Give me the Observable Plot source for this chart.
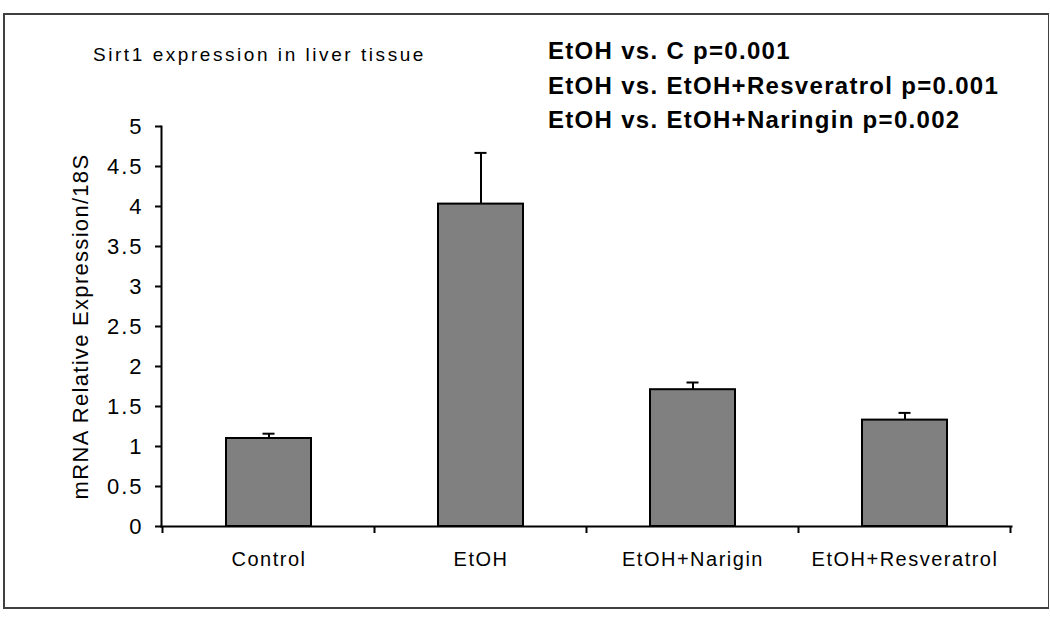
<!DOCTYPE html>
<html>
<head>
<meta charset="utf-8">
<script src="https://cdn.jsdelivr.net/npm/d3@7"></script>
<script src="https://cdn.jsdelivr.net/npm/@observablehq/plot@0.6"></script>
<style>
  html, body { margin: 0; padding: 0; background: #fff; }
  #wrap { position: relative; width: 1050px; height: 620px; overflow: hidden; font-family: "Liberation Sans", Arial, sans-serif; }
  #chart { position: absolute; left: 0; top: 0; }
  #border { position: absolute; left: 3px; top: 13px; width: 1046px; height: 596px; box-sizing: border-box; border: 2px solid #404040; border-right-width: 1px; pointer-events: none; }
  #title { position: absolute; left: 93px; top: 45px; font-size: 19px; line-height: 19px; letter-spacing: 2.55px; color: #000; white-space: nowrap; }
  #pvals { position: absolute; left: 548px; top: 34px; font-size: 24px; font-weight: bold; line-height: 34.5px; letter-spacing: 1.3px; color: #000; white-space: nowrap; }
  #chart g[aria-label="y-axis tick label"] { letter-spacing: 2px; }
  #chart g[aria-label="x-axis tick label"] { letter-spacing: 1.5px; }
  #chart g[aria-label="y-axis label"] { letter-spacing: 1.3px; }
</style>
</head>
<body>
<div id="wrap">
  <div id="chart"></div>
  <div id="border"></div>
  <div id="title"></div>
  <div id="pvals"></div>
</div>
<script>
const categories = ["Control", "EtOH", "EtOH+Narigin", "EtOH+Resveratrol"];
const means = [1.10, 4.03, 1.71, 1.33];
const errors = [0.06, 0.64, 0.09, 0.09];
const yTicks = [0, 0.5, 1, 1.5, 2, 2.5, 3, 3.5, 4, 4.5, 5];
const yTickLabels = ["0", "0.5", "1", "1.5", "2", "2.5", "3", "3.5", "4", "4.5", "5"];
const titleText = "Sirt1 expression in liver tissue";
const yLabel = "mRNA Relative Expression/18S";
const pValueLines = [
  "EtOH vs. C p=0.001",
  "EtOH vs. EtOH+Resveratrol p=0.001",
  "EtOH vs. EtOH+Naringin p=0.002"
];

const data = categories.map((c, i) => ({cat: c, mean: means[i], hi: means[i] + errors[i]}));

const plot = Plot.plot({
  width: 1050,
  height: 620,
  marginLeft: 161,
  marginRight: 39,
  marginTop: 126,
  marginBottom: 94,
  style: {fontFamily: '"Liberation Sans", Arial, sans-serif', color: "#000", background: "transparent"},
  x: {type: "band", domain: categories, paddingInner: 0.6, paddingOuter: 0.3},
  y: {domain: [0, 5]},
  marks: [
    Plot.barY(data, {x: "cat", y: "mean", fill: "#808080", stroke: "#000", strokeWidth: 2}),
    Plot.ruleX(data, {x: "cat", y1: "mean", y2: "hi", stroke: "#000", strokeWidth: 2}),
    Plot.tickY(data, {x: "cat", y: "hi", stroke: "#000", strokeWidth: 2, insetLeft: 36.5, insetRight: 36.5}),
    Plot.axisY({
      ticks: yTicks,
      tickFormat: (d) => yTickLabels[yTicks.indexOf(d)],
      tickSize: 6,
      tickPadding: 12,
      strokeWidth: 2,
      fontSize: 22,
      label: yLabel,
      labelAnchor: "center",
      labelArrow: "none",
      labelOffset: 89
    }),
    Plot.axisX({tickSize: 0, tickPadding: 25, fontSize: 20, label: null}),
    Plot.frame({anchor: "left", stroke: "#000", strokeWidth: 2}),
    Plot.frame({anchor: "bottom", stroke: "#000", strokeWidth: 2})
  ]
});

document.getElementById("chart").appendChild(plot);

// boundary ticks on the category axis (Excel style), from Plot's own scales
const xs = plot.scale("x");
const ys = plot.scale("y");
const step = xs.step != null ? xs.step : (xs.apply(categories[1]) - xs.apply(categories[0]));
const bw = xs.bandwidth != null ? xs.bandwidth : 0;
const bounds = categories.map(c => xs.apply(c) - (step - bw) / 2);
bounds.push(bounds[bounds.length - 1] + step);
const y0 = ys.apply(0);
d3.select(plot).append("g")
  .attr("stroke", "#000").attr("stroke-width", 2)
  .selectAll("line").data(bounds).join("line")
  .attr("x1", d => d).attr("x2", d => d)
  .attr("y1", y0).attr("y2", y0 + 7);

document.getElementById("title").textContent = titleText;
document.getElementById("pvals").innerHTML = pValueLines.map(s => `<div>${s}</div>`).join("");
</script>
</body>
</html>
